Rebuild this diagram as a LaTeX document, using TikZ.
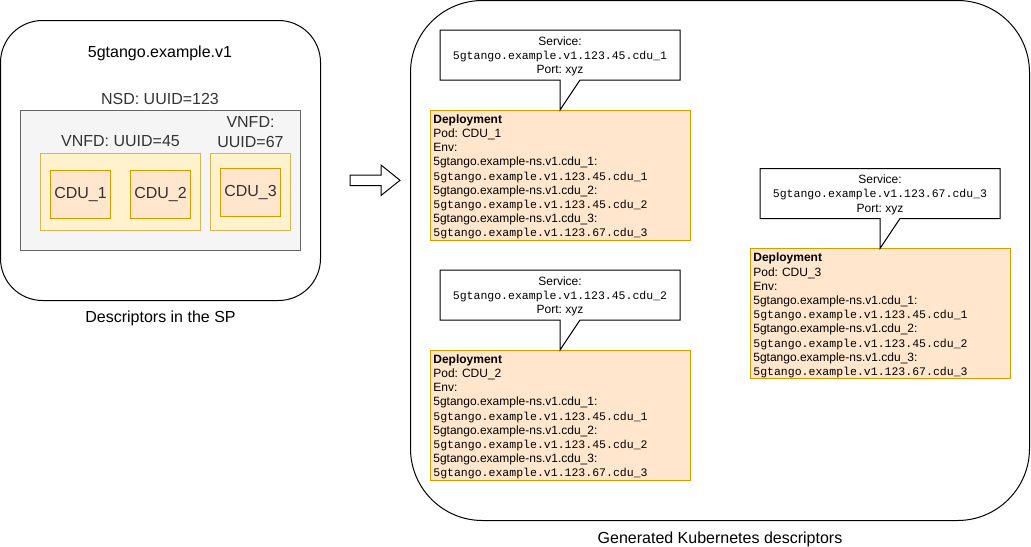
\documentclass[tikz,border=0pt]{standalone}
\usepackage{fontspec}
\setmainfont{Liberation Sans}
\setmonofont[Scale=0.96]{Liberation Mono}
\usepackage{xcolor}
\usepackage{tikz}

\definecolor{textgrey}{HTML}{333333}
\definecolor{nsdfill}{HTML}{F5F5F5}
\definecolor{nsdline}{HTML}{666666}
\definecolor{vnffill}{HTML}{FFF2CC}
\definecolor{vnfline}{HTML}{D6B656}
\definecolor{cdufill}{HTML}{FFE6CC}
\definecolor{cduline}{HTML}{D79B00}

\newcommand{\lblfont}{\fontsize{12pt}{14.4pt}\selectfont}
\newcommand{\dscfont}{\fontsize{9pt}{10.65pt}\selectfont}
\newcommand{\deptext}[1]{\rule{0pt}{10pt}\textbf{Deployment}\\
Pod: #1\\
Env:\\
5gtango.example-ns.v1.cdu\_1:\\
\texttt{5gtango.example.v1.123.45.cdu\_1}\\
5gtango.example-ns.v1.cdu\_2:\\
\texttt{5gtango.example.v1.123.45.cdu\_2}\\
5gtango.example-ns.v1.cdu\_3:\\
\texttt{5gtango.example.v1.123.67.cdu\_3}\rule[-2.3pt]{0pt}{0pt}}
\newcommand{\svctext}[1]{\rule{0pt}{11pt}Service:\\\texttt{#1}\\Port: xyz\rule[-4.5pt]{0pt}{0pt}}

\begin{document}
\frenchspacing
\begin{tikzpicture}[x=0.75pt, y=-0.75pt, line width=0.75pt,
  boxlabel/.style={font=\lblfont, anchor=base, inner sep=0pt},
  cdu/.style={draw=cduline, fill=cdufill, minimum width=45pt, minimum height=36pt, font=\lblfont, text=textgrey, inner sep=0pt},
  service/.style={minimum width=180pt, minimum height=37.5pt, align=center, font=\dscfont, inner sep=0pt, outer sep=0pt},
  deployment/.style={draw=cduline, fill=cdufill, anchor=north, minimum width=195pt, minimum height=97.5pt, text width=190pt, inner xsep=2.5pt, inner ysep=0pt, align=left, font=\dscfont, outer sep=0pt}]

\useasboundingbox (0, 0) rectangle (1031, 546);

% draw descriptors in the SP
\draw[rounded corners=31.5pt] (0.5, 20.5) rectangle (320.5, 300.5);
\node[boxlabel] (pkg) at (160, 57) {5gtango.example.v1};

\draw[draw=nsdline, fill=nsdfill] (20.5, 110.5) rectangle (300.5, 250.5);
\node[boxlabel, text=textgrey] (nsd) at (160, 104) {NSD: UUID=123};

\draw[draw=vnfline, fill=vnffill] (40.5, 153.5) rectangle (200.5, 230.5);
\draw[draw=vnfline, fill=vnffill] (210.5, 153.5) rectangle (290.5, 230.5);
\node[boxlabel, text=textgrey] (vnfd1) at (120.5, 146.7) {VNFD: UUID=45};
\node[font=\lblfont, text=textgrey, align=center, inner sep=0pt] (vnfd2) at (250.5, 132) {VNFD:\\UUID=67};

\node[cdu] (cdu1) at (80.5, 194.5) {CDU\_1};
\node[cdu] (cdu2) at (160.5, 194.5) {CDU\_2};
\node[cdu] (cdu3) at (250.5, 192.5) {CDU\_3};

\node[boxlabel] (sp) at (160.5, 322.5) {Descriptors in the SP};

% draw block arrow
\draw (350, 175) -- (381, 175) -- (381, 165) -- (400, 180.3) -- (381, 195.5) -- (381, 185.5) -- (350, 185.5) -- cycle;

% draw generated descriptors
\draw[rounded corners=54pt] (410.5, 0.5) rectangle (1029.5, 520.5);
\node[boxlabel] (k8s) at (720, 543.2) {Generated Kubernetes descriptors};

\node[deployment] (dep1) at (560, 110) {\deptext{CDU\_1}};
\node[deployment] (dep2) at (560, 350) {\deptext{CDU\_2}};
\node[deployment] (dep3) at (880, 248.5) {\deptext{CDU\_3}};

\node[service] (svc1) at (560, 55) {\svctext{5gtango.example.v1.123.45.cdu\_1}};
\node[service] (svc2) at (560, 295) {\svctext{5gtango.example.v1.123.45.cdu\_2}};
\node[service] (svc3) at (880, 193.5) {\svctext{5gtango.example.v1.123.67.cdu\_3}};

% draw callouts
\draw (svc1.south) -- (svc1.south west) -- (svc1.north west) -- (svc1.north east) -- (svc1.south east) -- ([xshift=15pt]svc1.south) -- (dep1.north) -- cycle;
\draw (svc2.south) -- (svc2.south west) -- (svc2.north west) -- (svc2.north east) -- (svc2.south east) -- ([xshift=15pt]svc2.south) -- (dep2.north) -- cycle;
\draw (svc3.south) -- (svc3.south west) -- (svc3.north west) -- (svc3.north east) -- (svc3.south east) -- ([xshift=15pt]svc3.south) -- (dep3.north) -- cycle;

\end{tikzpicture}
\end{document}
